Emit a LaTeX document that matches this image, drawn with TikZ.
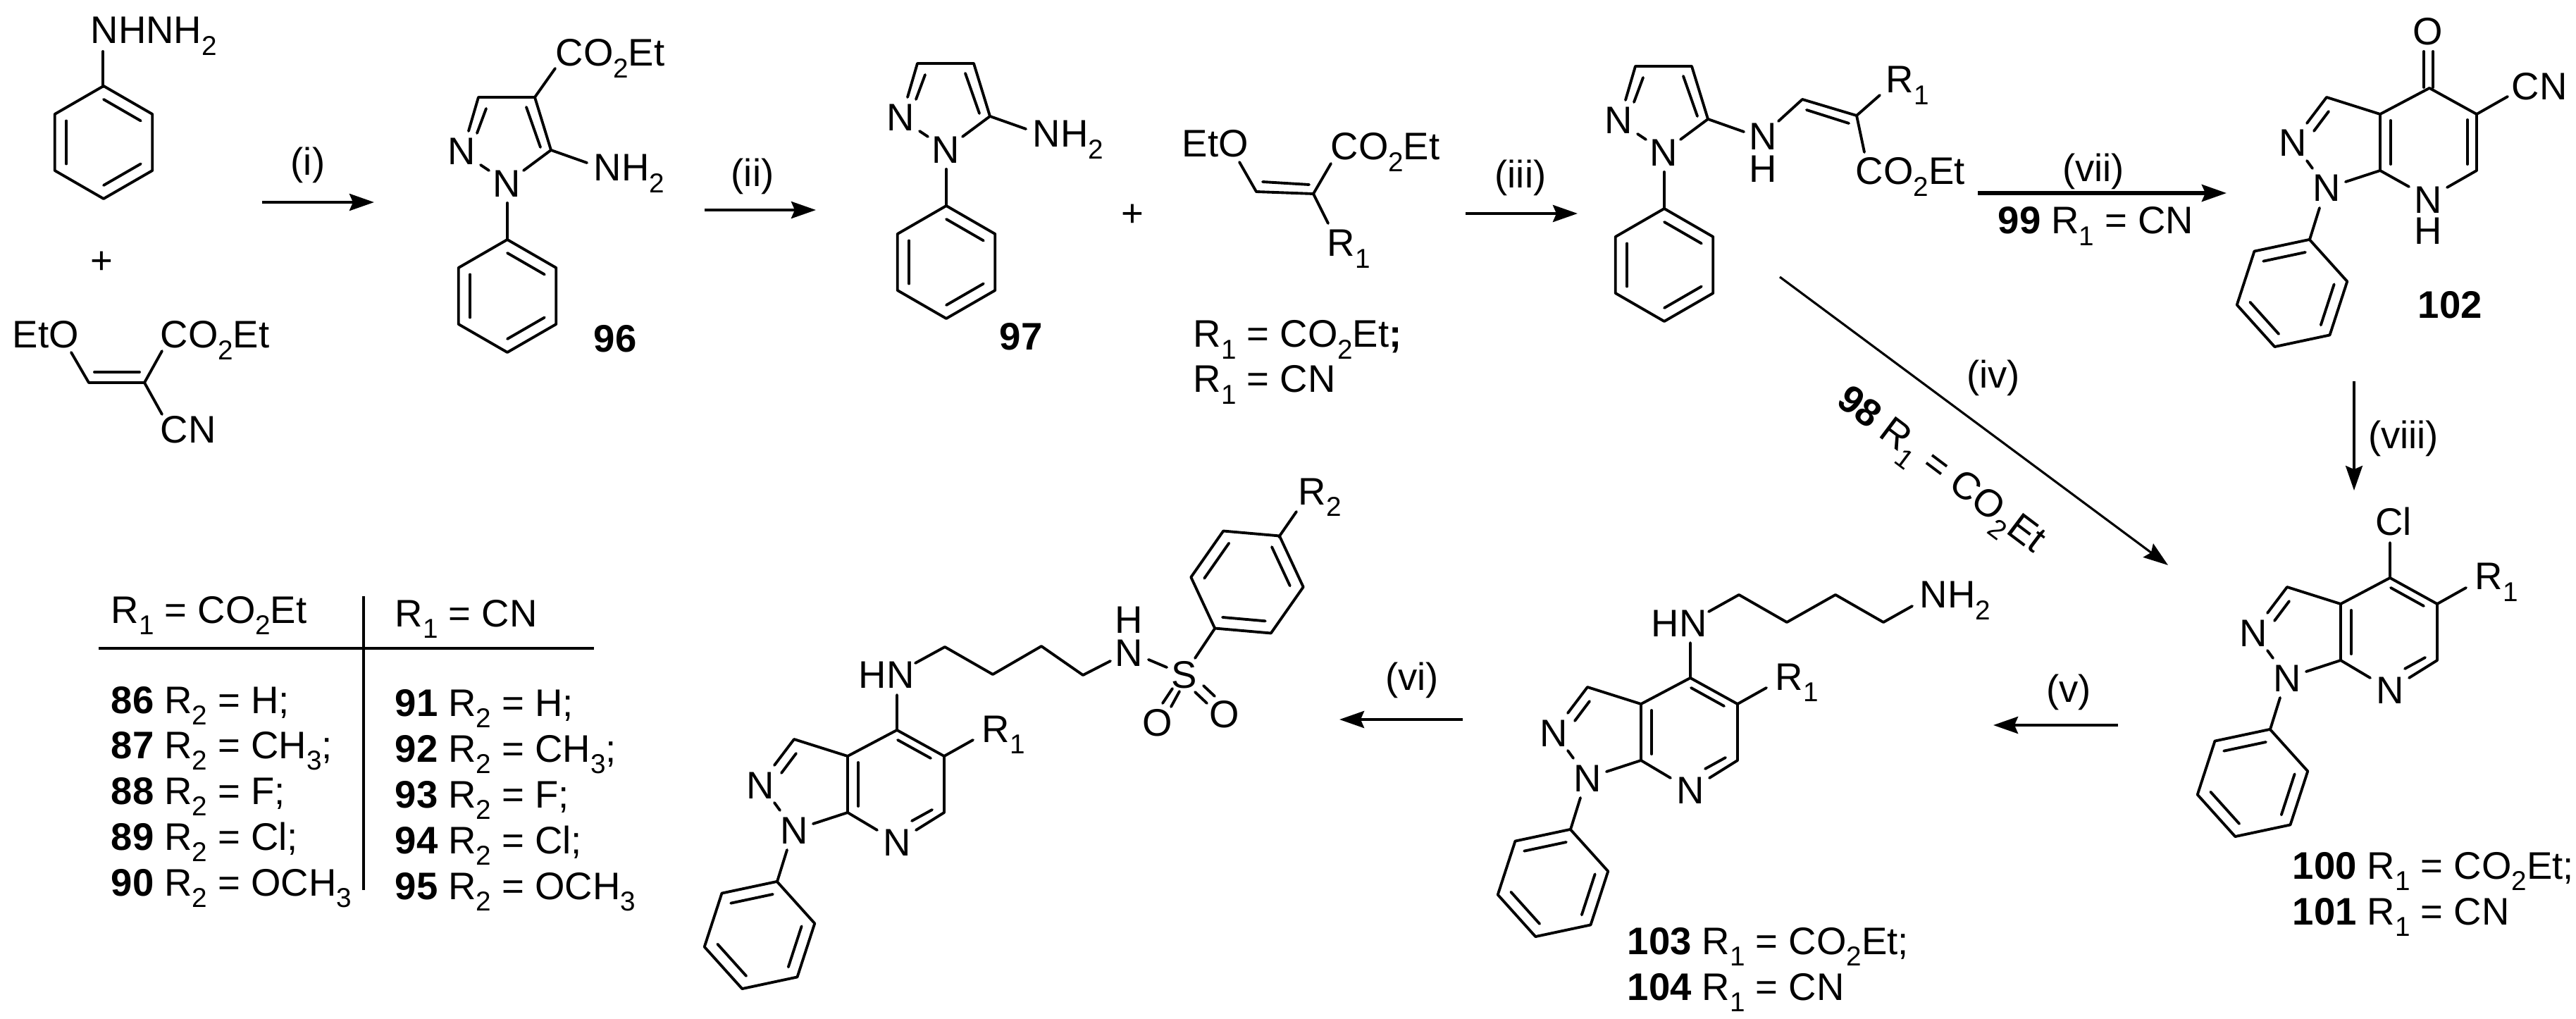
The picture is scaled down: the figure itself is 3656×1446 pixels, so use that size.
\documentclass[tikz,border=0pt]{standalone}
\usepackage{fontspec}
\setmainfont{Liberation Sans}
\usetikzlibrary{arrows.meta}
\newcommand{\low}[1]{\raisebox{-.3em}{\fontsize{11}{11}\selectfont #1}}
\tikzset{
  bond/.style={line width=1.1pt, line cap=round, line join=round},
  rxn/.style={line width=1.2pt, -{Stealth[length=.35cm, width=.24cm, inset=.05cm]}},
  atom/.style={anchor=base},
  lbl/.style={anchor=base west},
  phenyl/.pic={
    \draw[bond] (#1:80) -- ({#1+60}:80) -- ({#1+120}:80) -- ({#1+180}:80) -- ({#1+240}:80) -- ({#1+300}:80) -- cycle;
    \foreach \k in {0,120,240}
      \draw[bond] ({#1+\k}:61) -- ({#1+\k+60}:61);
  },
  pyrazole/.pic={
    \node[atom] (-ntwo) at (-24,96) {N};
    \node[atom] (-none) at (40,142) {N};
    \draw[bond] (-14,48) -- (0,0) -- (80,0) -- (103,75) -- (64,104);
    \draw[bond] (68,14) -- (88,71);
    \draw[bond] (11,16) -- (-2,51);
    \draw[bond] (3,96) -- (15,104);
    \draw[bond] (103,75) -- (154,93);
    \draw[bond] (41,150) -- (41,202);
    \pic at (41,282) {phenyl=-90};
  },
  fused/.pic={
    \node[atom] (-ntwo) at (-194,97) {N};
    \node[atom] (-none) at (-146,161) {N};
    \draw[bond] (-174,50) -- (-146,13) -- (-70,37) -- (0,0);
    \draw[bond] (-119,133) -- (-70,117) -- (-70,37);
    \draw[bond] (-143,33) -- (-164,61);
    \draw[bond] (-174,103) -- (-166,114);
    \draw[bond] (-55,46) -- (-55,108);
    \draw[bond] (-156,170) -- (-170,215);
    \pic at (-195,291) {phenyl=-132};
  },
  pyridine/.pic={
    \node[atom] (-nsev) at (0,178) {N};
    \node[lbl] (-rone) at (120,17) {R\low{1}};
    \draw[bond] (0,-50) -- (0,0) -- (67,37) -- (67,117) -- (27,142);
    \draw[bond] (1,14) -- (48,40);
    \draw[bond] (50,113) -- (21,129);
    \draw[bond] (-70,117) -- (-28,142);
    \draw[bond] (67,37) -- (108,14);
  }
}
\begin{document}
\begin{tikzpicture}[x=.01cm, y=-.01cm, every node/.style={inner sep=0pt, font=\fontsize{15.5}{18}\selectfont}]
  \useasboundingbox (0,0) rectangle (3656,1446);

  % starting materials
  \node[lbl] (hydrazine) at (128,62) {NHNH\low{2}};
  \draw[bond] (146,73) -- (146,123);
  \pic at (147,202) {phenyl=-90};
  \node (plusA) at (144,373) {+};
  \node[lbl] (etoA) at (17,494) {EtO};
  \node[lbl] (esterA) at (227,494) {CO\low{2}Et};
  \node[lbl] (cyanoA) at (227,629) {CN};
  \draw[bond] (101,500) -- (126,543) -- (205,543) -- (230,498);
  \draw[bond] (134,528) -- (198,528);
  \draw[bond] (205,543) -- (230,588);

  % 96
  \pic (pzA) at (679,138) {pyrazole};
  \draw[bond] (759,138) -- (788,97);
  \node[lbl] (esterB) at (788,94) {CO\low{2}Et};
  \node[lbl] (amineA) at (842,257) {NH\low{2}};
  \node[lbl, font=\fontsize{15.5}{18}\selectfont\bfseries] (cpdA) at (842,500) {96};

  % 97 and the second alkene
  \pic (pzB) at (1302,90) {pyrazole};
  \node[lbl] (amineB) at (1465,209) {NH\low{2}};
  \node[lbl, font=\fontsize{15.5}{18}\selectfont\bfseries] (cpdB) at (1418,497) {97};
  \node (plusB) at (1607,306) {+};
  \node[lbl] (etoB) at (1677,223) {EtO};
  \node[lbl] (esterC) at (1888,227) {CO\low{2}Et};
  \node[lbl] (roneA) at (1883,364) {R\low{1}};
  \draw[bond] (1759,230) -- (1783,272) -- (1864,275) -- (1889,232);
  \draw[bond] (1792,258) -- (1858,262);
  \draw[bond] (1864,275) -- (1885,317);
  \node[lbl] (defA) at (1693,493) {R\low{1} = CO\low{2}Et\textbf{;}};
  \node[lbl] (defB) at (1693,557) {R\low{1} = CN};

  % 98, 99
  \pic (pzC) at (2321,94) {pyrazole};
  \node[atom] (enN) at (2502,213) {N};
  \node[atom] (enH) at (2502,259) {H};
  \node[lbl] (roneB) at (2676,132) {R\low{1}};
  \node[lbl] (esterD) at (2633,262) {CO\low{2}Et};
  \draw[bond] (2524,172) -- (2558,141) -- (2635,164) -- (2668,135);
  \draw[bond] (2564,156) -- (2624,175);
  \draw[bond] (2635,164) -- (2646,216);

  % 102
  \pic (coreA) at (3448,125) {fused};
  \node[atom] (oxoA) at (3446,64) {O};
  \node[lbl] (cyanoB) at (3564,142) {CN};
  \node[atom] (pyrN) at (3446,303) {N};
  \node[atom] (pyrH) at (3446,347) {H};
  \node[lbl, font=\fontsize{15.5}{18}\selectfont\bfseries] (cpdC) at (3431,452) {102};
  \draw[bond] (3440,73) -- (3440,124);
  \draw[bond] (3453,73) -- (3453,124);
  \draw[bond] (3448,125) -- (3515,162) -- (3515,242) -- (3473,266);
  \draw[bond] (3502,170) -- (3502,233);
  \draw[bond] (3378,242) -- (3419,265);
  \draw[bond] (3515,162) -- (3559,137);

  % 100, 101
  \pic (coreB) at (3392,820) {fused};
  \pic (ringB) at (3392,820) {pyridine};
  \node[atom] (chloro) at (3397,759) {Cl};
  \node[lbl] (cpdD) at (3253,1247) {\textbf{100} R\low{1} = CO\low{2}Et;};
  \node[lbl] (cpdE) at (3253,1312) {\textbf{101} R\low{1} = CN};

  % 103, 104
  \pic (coreC) at (2399,962) {fused};
  \pic (ringC) at (2399,962) {pyridine};
  \node[lbl] (hnA) at (2343,903) {HN};
  \node[lbl] (amineC) at (2724,863) {NH\low{2}};
  \draw[bond] (2425,868) -- (2468,844) -- (2536,883) -- (2605,844) -- (2673,883) -- (2714,860);
  \node[lbl] (cpdF) at (2309,1354) {\textbf{103} R\low{1} = CO\low{2}Et;};
  \node[lbl] (cpdG) at (2309,1419) {\textbf{104} R\low{1} = CN};

  % sulfonamide
  \pic (coreD) at (1273,1036) {fused};
  \pic (ringD) at (1273,1036) {pyridine};
  \node[lbl] (hnB) at (1218,976) {HN};
  \node[atom] (sulH) at (1602,898) {H};
  \node[atom] (sulN) at (1602,945) {N};
  \node[atom] (sulS) at (1681,976) {S};
  \node[atom] (sulOa) at (1643,1044) {O};
  \node[atom] (sulOb) at (1738,1032) {O};
  \node[lbl] (rtwo) at (1842,716) {R\low{2}};
  \draw[bond] (1299,941) -- (1341,918) -- (1409,957) -- (1478,917) -- (1537,958) -- (1576,938);
  \draw[bond] (1630,936) -- (1656,947);
  \draw[bond] (1664,977) -- (1650,998);
  \draw[bond] (1674,981) -- (1662,1003);
  \draw[bond] (1696,982) -- (1713,998);
  \draw[bond] (1708,973) -- (1724,988);
  \draw[bond] (1696,934) -- (1724,892);
  \draw[bond] (1815,762) -- (1840,726);
  \pic at (1770,826) {phenyl=65};

  % table
  \coordinate (tabT) at (516,846);
  \coordinate (tabB) at (516,1263);
  \coordinate (tabL) at (140,920);
  \coordinate (tabR) at (843,920);
  \draw[line width=.9pt] (tabT) -- (tabB);
  \draw[line width=1.2pt] (tabL) -- (tabR);
  \node[lbl] (headL) at (157,884) {R\low{1} = CO\low{2}Et};
  \node[lbl] (headR) at (560,889) {R\low{1} = CN};
  \node[lbl] (rowA) at (157,1012) {\textbf{86} R\low{2} = H;};
  \node[lbl] (rowB) at (157,1076) {\textbf{87} R\low{2} = CH\low{3};};
  \node[lbl] (rowC) at (157,1141) {\textbf{88} R\low{2} = F;};
  \node[lbl] (rowD) at (157,1206) {\textbf{89} R\low{2} = Cl;};
  \node[lbl] (rowE) at (157,1271) {\textbf{90} R\low{2} = OCH\low{3}};
  \node[lbl] (rowF) at (560,1016) {\textbf{91} R\low{2} = H;};
  \node[lbl] (rowG) at (560,1081) {\textbf{92} R\low{2} = CH\low{3};};
  \node[lbl] (rowH) at (560,1146) {\textbf{93} R\low{2} = F;};
  \node[lbl] (rowI) at (560,1211) {\textbf{94} R\low{2} = Cl;};
  \node[lbl] (rowJ) at (560,1276) {\textbf{95} R\low{2} = OCH\low{3}};

  % reaction arrows
  \coordinate (iS) at (372,287);    \coordinate (iE) at (531,287);
  \coordinate (iiS) at (1000,298);  \coordinate (iiE) at (1158,298);
  \coordinate (iiiS) at (2080,303); \coordinate (iiiE) at (2239,303);
  \coordinate (viiS) at (2807,274); \coordinate (viiE) at (3160,274);
  \coordinate (viiiS) at (3341,541);\coordinate (viiiE) at (3341,696);
  \coordinate (ivS) at (2526,393);  \coordinate (ivE) at (3077,802);
  \coordinate (vS) at (3006,1029);  \coordinate (vE) at (2829,1029);
  \coordinate (viS) at (2076,1021); \coordinate (viE) at (1901,1021);
  \draw[rxn] (iS) -- (iE);
  \draw[rxn] (iiS) -- (iiE);
  \draw[rxn] (iiiS) -- (iiiE);
  \draw[rxn, line width=1.5pt] (viiS) -- (viiE);
  \draw[rxn, line width=.9pt] (viiiS) -- (viiiE);
  \draw[rxn, line width=.9pt] (ivS) -- (ivE);
  \draw[rxn] (vS) -- (vE);
  \draw[rxn] (viS) -- (viE);
  \node (lbI) at (437,234) {(i)};
  \node (lbII) at (1068,250) {(ii)};
  \node (lbIII) at (2158,252) {(iii)};
  \node (lbVII) at (2971,243) {(vii)};
  \node[lbl] (lbNN) at (2835,332) {\textbf{99} R\low{1} = CN};
  \node (lbVIII) at (3411,622) {(viii)};
  \node (lbIV) at (2829,536) {(iv)};
  \node[rotate=-37] (lbNE) at (2752,671) {\textbf{98} R\low{1} = CO\low{2}Et};
  \node (lbV) at (2936,982) {(v)};
  \node (lbVI) at (2004,965) {(vi)};
\end{tikzpicture}
\end{document}
